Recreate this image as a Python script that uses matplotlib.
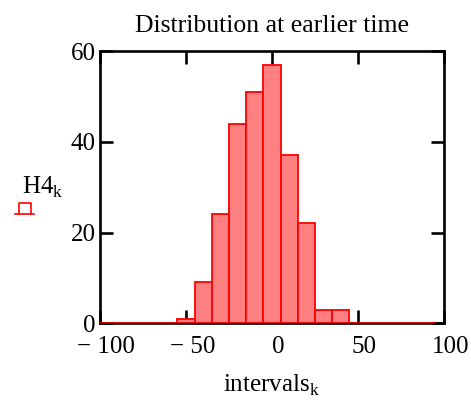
import matplotlib
matplotlib.use("Agg")
import matplotlib.pyplot as plt
import matplotlib.transforms as mtransforms
from matplotlib.lines import Line2D

# Histogram data: bin centres and counts
intervals = [-100, -90, -80, -70, -60, -50, -40, -30, -20, -10,
             0, 10, 20, 30, 40, 50, 60, 70, 80, 90]
H4 = [0, 0, 0, 0, 0, 1, 9, 24, 44, 51,
      57, 37, 22, 3, 3, 0, 0, 0, 0, 0]
x_ticks = [-100, -50, 0, 50, 100]
x_tick_labels = ["\u2212 100", "\u2212 50", "0", "50", "100"]
y_ticks = [0, 20, 40, 60]

plt.rcParams['font.family'] = ['Liberation Serif', 'DejaVu Serif']

fig = plt.figure(figsize=(4.71, 4.0), dpi=100)
ax = fig.add_axes([100/471, 1 - 323.3/400, 344/471, (323.3 - 51)/400])

ax.bar(intervals, H4, width=10, color='#ff8080', edgecolor='#ff0000',
       linewidth=1.3, zorder=3, align='center')

ax.set_xlim(-100, 100)
ax.set_ylim(0, 60)
ax.set_xticks(x_ticks)
ax.set_xticklabels(x_tick_labels)
ax.set_yticks(y_ticks)

for s in ax.spines.values():
    s.set_linewidth(1.9)
    s.set_color('black')
    s.set_zorder(2)

ax.tick_params(direction='in', length=9.5, width=1.9, top=True, right=True,
               labelsize=18, colors='black')
ax.tick_params(axis='x', pad=9)
ax.tick_params(axis='y', pad=3)

# nudge x tick labels slightly to the right
shift = mtransforms.ScaledTranslation(4.5/72, 0, fig.dpi_scale_trans)
for lbl in ax.get_xticklabels():
    lbl.set_transform(lbl.get_transform() + shift)

ax.set_title("Distribution at earlier time", fontsize=18.5, pad=14)
ax.set_xlabel(r"intervals$_\mathregular{k}$", fontsize=18, labelpad=11)

# Trace label on the left with its legend marker
fig.text(22/471, 1 - 187/400, r"H4$_\mathregular{k}$", fontsize=18,
         ha='left', va='center')
lx0, lx1, ly = 15/471, 34/471, 1 - 214/400
fig.add_artist(Line2D([lx0, lx1], [ly, ly], color='#ff0000', lw=1.2,
                      transform=fig.transFigure))
bx0, bx1, by0, by1 = 19/471, 31/471, ly, 1 - 203/400
fig.add_artist(Line2D([bx0, bx0, bx1, bx1], [by0, by1, by1, by0],
                      color='#ff0000', lw=1.2, transform=fig.transFigure))

fig.savefig("out.png", dpi=100)
